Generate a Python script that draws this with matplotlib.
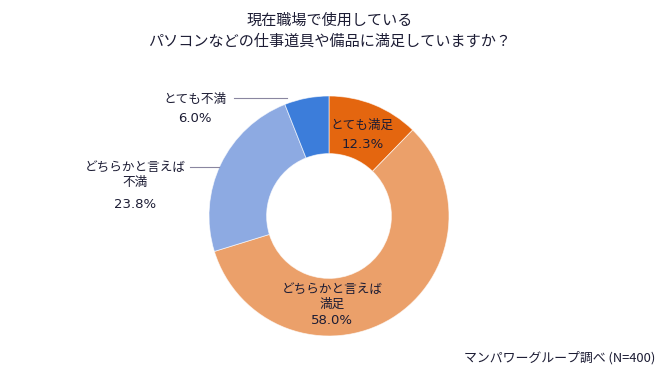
import matplotlib
matplotlib.use("Agg")
import matplotlib.pyplot as plt

plt.rcParams["font.family"] = ["Noto Sans CJK JP", "DejaVu Sans"]

TITLE = "現在職場で使用している\nパソコンなどの仕事道具や備品に満足していますか？"
SOURCE = "マンパワーグループ調べ (N=400)"

categories = ["とても満足", "どちらかと言えば\n満足", "どちらかと言えば\n不満", "とても不満"]
shares = [12.3, 58.0, 23.8, 6.0]
colors = ["#E4660F", "#EBA06A", "#8DAAE2", "#3C7DDA"]

TEXT = "#1c1c34"
W, H = 660, 388

fig = plt.figure(figsize=(W / 100, H / 100), dpi=100)
ax = fig.add_axes([0, 0, 1, 1])

cx, cy, r = 329, H - 216, 120
ax.pie(
    shares,
    colors=colors,
    startangle=90,
    counterclock=False,
    center=(cx, cy),
    radius=r,
    wedgeprops=dict(width=r * 0.48, linewidth=0.6, edgecolor="#ffffffaa"),
)
ax.set_xlim(0, W)
ax.set_ylim(0, H)
ax.axis("off")

fig.text(0.5, 1 - 31 / H, TITLE, ha="center", va="center", fontsize=10.9,
         color=TEXT, linespacing=1.3)

lab = dict(ha="center", va="center", fontsize=9.1, color=TEXT)
pct = dict(ha="center", va="center", fontsize=9.5, color=TEXT,
           family=["DejaVu Sans"])
# inside labels
ax.text(362, H - 125, categories[0], **lab)
ax.text(363, H - 144, f"{shares[0]:.1f}%", **pct)
ax.text(332, H - 297, categories[1], linespacing=1.15, **lab)
ax.text(332, H - 321, f"{shares[1]:.1f}%", **pct)
# outside labels with leader lines
ax.text(135, H - 175, categories[2], linespacing=1.15, **lab)
ax.text(135, H - 204, f"{shares[2]:.1f}%", **pct)
ax.plot([190, 219], [H - 167, H - 167], color="#8a86a0", lw=0.8)
ax.text(195, H - 99, categories[3], **lab)
ax.text(195, H - 119, f"{shares[3]:.1f}%", **pct)
ax.plot([234, 287], [H - 98, H - 98], color="#8a86a0", lw=0.8)

fig.text(1 - 5 / W, 1 - 358 / H, SOURCE, ha="right", va="center",
         fontsize=9.3, color=TEXT)

fig.savefig("out.png", dpi=100, facecolor="white")
